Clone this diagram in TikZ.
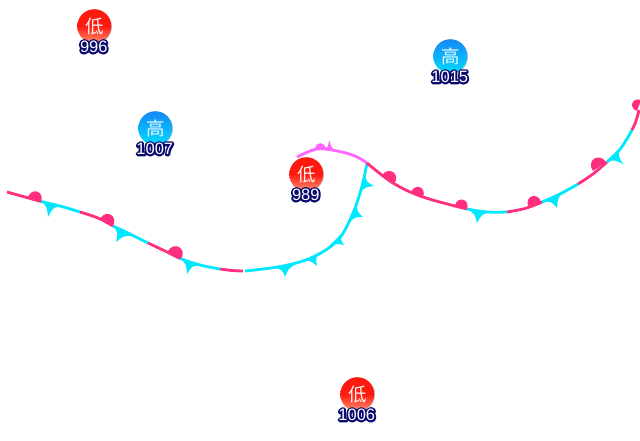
\documentclass[tikz,border=0pt]{standalone}
\usepackage{fontspec}
\setmainfont{Liberation Sans}
\newfontfamily\cjk{Noto Sans CJK SC}
\usetikzlibrary{calc}
\definecolor{warmc}{HTML}{FF2E7E}
\definecolor{coldc}{HTML}{00E8FF}
\definecolor{occc}{HTML}{FF66FF}
\definecolor{navyc}{HTML}{0A0A6E}
\definecolor{lowt}{HTML}{FF1A10}
\definecolor{lowb}{HTML}{FF9070}
\definecolor{hight}{HTML}{1488F5}
\definecolor{highb}{HTML}{00DCFF}
\newcommand{\halotext}[1]{\leavevmode\rlap{\special{pdf:code q 1 Tr 3.8 w 0.04 0.04 0.43 RG 0.04 0.04 0.43 rg 1 j}\textcolor{navyc}{#1}\special{pdf:code 0 Tr Q}}\textcolor{white}{#1}}
\tikzset{
  seg/.style={line width=2.8pt,smooth,tension=.6},
  warmseg/.style={seg,draw=warmc},
  coldseg/.style={seg,draw=coldc},
  occseg/.style={seg,draw=occc},
  lowdisc/.style={circle,minimum size=34pt,inner sep=0pt,top color=lowt,bottom color=lowb,middle color=lowt,text=white!90!lowb,font=\cjk\fontsize{18.5}{18.5}\selectfont},
  highdisc/.style={circle,minimum size=34pt,inner sep=0pt,top color=hight,bottom color=highb,text=white!90!highb,font=\cjk\fontsize{18.5}{18.5}\selectfont},
  pressure/.style={inner sep=0pt,font=\fontsize{16.5}{16.5}\selectfont}
}
\newcommand{\bump}[3]{\fill[#1] #2 .. controls ($#2!.8!90:#3$) and ($#3!.8!-90:#2$) .. #3 -- cycle;}
\newcommand{\tooth}[4]{\fill[#1] #2 .. controls ($($#2!.5!#4$)!.42!($#2!.5!#3$)$) .. #4 .. controls ($($#3!.5!#4$)!.42!($#2!.5!#3$)$) .. #3 -- cycle;}
\newcommand{\centre}[6]{%
  \fill[black!22] (#2+1,#3+.8) circle (17);
  \node[#1] (#4) at (#2+.3,#3+.2) {#5};
  \node[pressure,anchor=north] (#4p) at (#2-.2,#3+14.8) {\halotext{#6}};}
\begin{document}
\begin{tikzpicture}[x=1pt,y=-1pt]
\useasboundingbox (0,0) rectangle (640,440);
\clip (0,0) rectangle (640,440);
% fronts
\draw[warmseg] plot coordinates {(7,192) (41,201.5)};
\draw[coldseg] plot coordinates {(41,201.5) (60,206) (80,212)};
\draw[warmseg] plot coordinates {(80,212) (98,218) (113,226)};
\draw[coldseg] plot coordinates {(113,226) (130,234) (148,243)};
\draw[warmseg] plot coordinates {(148,243) (165,251) (180,258.5)};
\draw[coldseg] plot coordinates {(180,258.5) (200,265) (220,269)};
\draw[warmseg] plot coordinates {(220,269) (232,270.5) (243,271)};
\draw[coldseg] plot coordinates {(245,271) (283,266) (313,257) (338,240) (353,213) (362,186) (367,163)};
\draw[occseg] plot coordinates {(297,157) (317,149) (337,151) (355,156) (367,163)};
\draw[warmseg] plot coordinates {(367,163) (393,183) (423,197) (467,209)};
\draw[coldseg] plot coordinates {(467,209) (487,212) (507,212)};
\draw[warmseg] plot coordinates {(507,212) (525,208.5) (542,202)};
\draw[coldseg] plot coordinates {(542,202) (560,194) (578,184)};
\draw[warmseg] plot coordinates {(578,184) (593,174) (607,162)};
\draw[coldseg] plot coordinates {(607,162) (621,148) (632,130)};
\draw[warmseg] plot coordinates {(632,130) (636,121) (639,110)};
% warm bumps
\bump{warmc}{(28,197)}{(41,202)}
\bump{warmc}{(100,219)}{(113,226)}
\bump{warmc}{(168,251)}{(181,259)}
\bump{warmc}{(382,175)}{(394,184)}
\bump{warmc}{(411,192)}{(423,197)}
\bump{warmc}{(455,205)}{(467,209)}
\bump{warmc}{(528,206)}{(541,202)}
\bump{warmc}{(593,171)}{(606,162)}
\bump{warmc}{(637,111)}{(641,100)}
\bump{occc}{(315,150)}{(326,149.5)}
% cold teeth
\tooth{coldc}{(41,201)}{(60,206)}{(48,217)}
\tooth{coldc}{(113,226)}{(133,236)}{(116,242)}
\tooth{coldc}{(180,258)}{(200,265)}{(187,274)}
\tooth{coldc}{(275,268)}{(296,264)}{(285,277)}
\tooth{coldc}{(303,261)}{(320,252)}{(317,266)}
\tooth{coldc}{(328,247)}{(343,232)}{(344,245)}
\tooth{coldc}{(349,223)}{(357,203)}{(363,217)}
\tooth{coldc}{(360,193)}{(365,175)}{(374,186)}
\tooth{coldc}{(467,209)}{(490,212)}{(477,223)}
\tooth{coldc}{(542,202)}{(565,190)}{(557,208)}
\tooth{coldc}{(607,162)}{(620,148)}{(623,164)}
\tooth{occc}{(324,150)}{(336,151)}{(329,140)}
% pressure centres
\centre{lowdisc}{94}{26}{a}{低}{996}
\centre{highdisc}{155}{128}{b}{高}{1007}
\centre{lowdisc}{306}{174}{c}{低}{989}
\centre{highdisc}{450}{56}{d}{高}{1015}
\centre{lowdisc}{357}{394}{e}{低}{1006}
\end{tikzpicture}
\end{document}
